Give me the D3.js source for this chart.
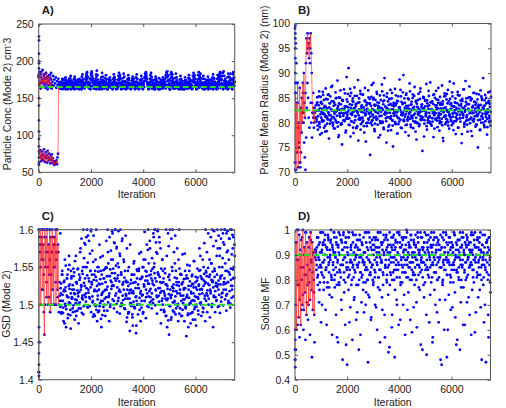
<!DOCTYPE html>
<html>
<head>
<meta charset="utf-8">
<script src="https://cdn.jsdelivr.net/npm/d3@7"></script>
<style>
  body { margin: 0; background: #fff; }
  text { font-family: "Liberation Sans", Arial, sans-serif; fill: #222; }
</style>
</head>
<body>
<div id="container"></div>
<script>
/* DATA */
// sample traces: three thinned chains (every 25 iterations), burn-in traces every 20
const mainStep = 25, secondFrom = 812, thirdFrom = 806, burnStep = 20, startIter = 10;
const iterTicks = [0, 2000, 4000, 6000];

// A) particle concentration
const concTicks = [50, 100, 150, 200, 250];
const concTruth = 165;
const concStart = [233, 228, 210, 200, 197, 190, 182, 150, 140, 120, 105, 95, 85, 78, 70, 63, 60];
const concBurnUpper = [180,168,185,172,163,178,186,170,175,165,182,171,177,164,184,169,176,162,179,173,167,181,170,164,175,168];
const concBurnLower = [180,76,70,80,65,72,78,68,74,66,81,71,64,77,69,73,63,79,70,66,75,68,62,72,67,74,63,69,62,65,60,64,62,63,66,61,70,75,165];
const concMain = [
  178,185,170,182,165,175,188,172,180,168,176,183,171,179,166,174,181,169,177,184,163,172,180,167,175,170,178,164,173,168,176,171,
  168,172,165,170,176,174,169,164,171,178, 175,170,166,163,168,173,177,180,174,169,
  165,171,176,179,173,167,164,170,175,172, 168,163,166,174,179,182,176,170,165,169,
  175,181,185,179,172,167,171,177,183,186, 180,174,169,165,170,176,182,187,181,175,
  170,166,164,171,178,184,179,173,168,172, 177,181,175,169,164,167,173,178,174,168,
  165,170,176,182,178,172,166,163,169,175, 180,184,178,171,167,164,170,177,183,179,
  173,168,165,171,176,181,177,170,166,163, 168,174,179,175,169,165,172,178,182,176,
  170,166,164,169,175,180,176,171,167,173, 178,183,185,179,172,168,165,170,176,181,
  184,178,172,167,164,169,175,179,174,168, 165,171,177,172,167,163,168,174,178,173,
  169,166,172,179,184,186,180,174,170,176, 182,185,179,173,168,165,170,177,183,178,
  172,167,164,169,175,180,176,170,166,163, 167,173,178,174,169,165,171,177,181,175,
  170,166,168,174,180,184,178,172,167,164, 169,175,181,185,179,173,168,165,170,176,
  180,176,171,167,164,169,174,179,175,170, 166,163,168,173,178,182,177,171,167,165,
  170,176,181,177,172,168,164,169,175,180, 184,186,180,174,169,166,171,178,183,179,
  173,168,165,170,176,182,185,178,172
];
const concMain2 = [
  163,166,171,164,162,169,175,167,164,170, 173,168,162,165,171,177,172,166,163,167,
  170,164,162,168,174,170,165,163,166,172, 176,171,165,162,167,173,169,164,166,171,
  178,183,176,170,165,163,168,175,181,184, 177,171,166,163,169,174,179,172,167,164,
  162,165,170,175,171,166,163,168,173,177, 172,167,164,162,166,171,176,173,168,165,
  163,167,172,178,175,169,164,162,166,170, 174,179,181,176,170,165,163,167,172,168,
  164,162,166,171,175,170,166,163,165,169, 173,177,172,167,164,162,167,172,176,171,
  166,163,165,170,174,169,164,162,168,173, 177,180,182,176,171,166,163,167,172,175,
  179,174,168,164,162,166,171,176,172,167, 164,162,167,171,175,170,166,163,165,169,
  172,176,181,185,179,173,168,164,162,167, 173,178,182,176,171,166,163,165,170,174,
  168,164,162,166,171,175,171,167,163,162, 165,170,174,169,165,163,167,172,177,173,
  168,164,162,166,172,177,181,176,170,166, 163,165,171,176,180,183,177,171,167,164,
  162,166,170,175,171,167,164,162,166,171, 175,170,165,163,167,172,176,172,168,164,
  162,167,172,178,182,185,180,174,169,165, 163,166,171,176,173,168,164,162,167,172,
  178,183,174,168,165,170,176,171
];
const concMain3 = [
  166,169,163,172,168,164,170,175,167,162, 165,171,168,163,174,169,166,162,170,173,
  167,164,169,176,171,165,163,168,172,166, 162,167,173,170,164,166,171,168,163,169,
  175,180,172,167,164,170,168,162,166,174, 171,166,163,169,173,167,162,165,170,168,
  164,172,169,165,162,167,174,170,166,163, 168,171,165,162,169,176,172,167,164,170,
  166,162,168,173,170,165,163,171,167,164, 169,175,171,166,162,168,173,169,165,163,
  167,172,168,163,166,170,174,169,164,162, 168,165,171,176,170,166,163,167,172,168,
  164,162,169,174,171,166,168,163,170,165, 173,178,183,175,169,165,162,167,171,168,
  166,163,170,174,168,164,162,169,173,167, 165,171,167,162,166,172,169,164,170,175,
  170,166,163,168,178,181,174,169,165,162, 167,173,170,165,163,168,172,166,164,170,
  168,163,166,171,169,164,162,167,173,169, 165,162,168,174,171,166,163,170,167,164,
  169,173,167,163,165,171,175,170,166,162, 168,172,167,164,169,174,170,165,163,168,
  171,166,162,167,172,168,164,169,173,166, 163,170,175,169,165,162,168,172,167,164,
  170,166,163,169,174,179,184,176,170,166, 162,168,173,169,165,163,167,171,168,164,
  170,175,168,165,162,169,173,167
];

// B) particle mean radius
const radiusTicks = [70, 75, 80, 85, 90, 95, 100];
const radiusTruth = 82.5;
const radiusStart = [99.5, 98, 97, 95, 93, 90, 88, 86, 72, 70.5];
const radiusBurn = [72,86,70.5,84,74,88,71,80,76,87,72,83,78,85,80,88,82,90,84,81,86,92,97,94,98,95,96,93,97,95,98,94,90,84,82,81,83,80,82];
const radiusMain = [
  99,96,92,88,84,79,75,72,71,74,78,82,86,80,76,73,70.5,77,83,88,85,81,79,92,84,80,77,82,86,79,83,81,
  83.5,80.2,85.1,78.6,82.4,86.3,79.1,81.7,84.2,77.9, 82.8,85.6,80.4,83.1,78.2,86.9,81.3,79.8,84.7,82.0,
  76.8,83.9,85.3,80.7,82.6,87.4,79.4,81.1,84.0,78.8, 86.1,82.3,80.0,88.5,83.4,77.5,81.9,85.0,79.6,82.7,
  75.6,84.5,81.4,86.7,80.3,83.2,78.4,89.2,82.1,85.8, 91.0,80.9,83.7,77.2,86.0,81.6,84.4,79.0,82.9,87.1,
  80.5,83.3,78.9,85.4,82.2,76.4,84.9,81.0,86.4,79.7, 83.0,80.1,85.7,82.5,78.0,87.0,81.8,84.1,79.3,82.6,
  86.5,80.6,83.8,73.5,82.0,85.2,79.5,81.5,88.0,83.6, 78.3,84.6,81.2,86.2,80.8,83.4,77.0,82.4,85.5,79.9,
  82.2,87.7,80.2,84.3,78.7,89.0,81.7,83.1,76.0,85.9, 82.8,79.2,84.8,81.0,86.6,78.5,83.5,80.4,75.2,84.0,
  81.4,86.8,79.7,83.9,82.1,77.8,85.3,80.9,88.7,82.5, 79.0,84.2,81.6,86.1,89.6,80.3,83.0,78.1,85.6,82.3,
  80.7,84.9,77.4,82.8,86.3,79.6,83.7,81.2,85.0,78.9, 82.6,87.2,80.0,84.4,76.6,83.2,81.8,85.8,79.3,82.1,
  86.9,80.5,83.6,74.3,82.4,85.1,79.8,84.6,81.3,87.8, 78.6,83.3,81.0,85.4,80.2,88.1,82.7,79.4,84.3,81.9,
  77.1,85.7,82.0,80.8,86.4,83.5,79.1,84.0,81.5,78.4, 85.2,82.9,80.1,87.5,83.8,76.3,82.3,85.9,79.7,81.4,
  84.7,80.6,86.6,82.5,78.8,88.3,81.1,83.9,79.5,85.3, 82.0,87.9,80.3,84.1,77.7,83.0,81.6,86.2,79.0,82.8,
  85.5,80.9,83.4,75.9,84.8,81.7,86.7,79.2,82.2,88.4, 80.4,83.7,78.2,85.0,82.5,87.3,79.9,84.5,81.0,77.3,
  83.1,86.0,80.7,84.2,82.9,79.6,85.8,81.3,75.0,83.6, 82.4,78.5,86.5,80.0,84.9,81.8,89.0,83.3,79.1,85.6,
  81.2,84.0,77.6,82.7,86.1,80.2,83.8,79.4,85.2
];
const radiusMain2 = [
  81.0,83.8,79.4,82.6,85.3,80.1,77.6,84.0,82.2,80.5, 86.2,81.7,79.0,83.4,81.2,84.8,78.3,82.9,80.6,85.7,
  83.1,79.8,81.5,87.2,82.4,80.0,84.3,78.9,81.8,83.6, 80.3,85.0,82.7,79.2,77.1,83.9,81.4,86.5,82.0,79.7,
  84.6,81.9,80.4,82.8,85.9,78.0,83.3,81.1,84.2,80.8, 82.5,79.5,86.8,83.0,80.2,81.6,84.9,77.9,82.3,85.4,
  81.3,83.7,79.1,82.0,88.6,80.7,84.1,82.6,78.6,83.2, 80.9,85.6,82.1,79.3,84.4,81.5,76.2,83.5,82.8,80.0,
  85.1,81.8,83.9,79.9,82.4,87.6,80.5,84.7,81.0,78.7, 83.4,82.2,80.6,85.8,79.6,82.9,84.0,81.3,77.5,83.0,
  80.1,86.3,82.6,79.0,84.5,81.7,83.3,80.3,85.2,82.0, 78.4,83.6,81.1,84.8,80.8,82.7,86.0,79.4,81.9,83.8,
  82.3,79.8,85.5,81.4,77.8,84.3,82.5,80.2,83.1,86.6, 81.6,78.9,83.7,82.0,80.6,84.9,81.2,79.5,85.9,82.8,
  80.4,83.4,81.8,87.9,82.2,79.1,84.2,80.9,83.0,81.5, 85.4,82.6,78.2,81.0,83.8,80.0,84.6,82.1,79.7,86.2,
  81.3,83.2,80.7,82.9,85.0,77.2,82.4,84.4,81.6,79.3, 83.9,80.5,86.4,82.0,81.1,84.1,79.6,82.7,80.2,85.6,
  82.3,78.8,83.5,81.9,84.7,80.4,82.9,87.0,81.0,79.9, 84.0,82.5,80.8,83.6,76.9,82.1,85.3,81.4,83.1,80.1,
  85.8,82.2,79.4,84.3,81.7,83.7,80.6,82.8,86.1,81.2, 78.5,83.3,82.0,84.9,80.3,81.8,83.9,79.0,85.5,82.6,
  80.9,84.5,82.3,77.7,83.0,81.5,86.7,80.0,82.4,84.2, 81.1,79.6,83.8,82.7,85.1,80.7,82.0,78.3,84.8,81.9,
  83.4,80.2,86.0,82.5,79.2,84.0,81.6,83.2,80.5,85.7, 82.1,78.6,83.6,81.3,84.6,80.8,82.9,79.5,
  83.5,80.3,85.0,81.8,79.1,82.6,84.4,80.9,86.3,82.2
];
const radiusMain3 = [
  82.4,80.6,84.1,81.3,83.5,79.7,82.9,85.2,81.0,83.8, 80.2,82.0,84.6,81.7,79.4,83.2,82.5,80.9,85.6,82.1,
  81.5,83.9,80.4,82.7,84.3,81.1,79.8,83.4,82.2,80.7, 84.9,82.3,81.4,83.0,80.1,85.1,82.6,81.2,83.7,79.9,
  82.8,84.4,80.5,81.9,83.3,82.0,80.8,84.7,81.6,83.1, 79.6,82.5,85.4,81.8,80.3,83.6,82.1,84.2,80.0,82.9,
  81.3,83.8,82.4,79.3,84.0,81.5,82.7,80.6,85.8,82.2, 83.5,81.0,80.4,83.1,82.6,84.5,81.7,79.9,82.3,83.9,
  80.8,82.0,84.8,81.2,83.4,80.2,82.8,81.6,85.0,82.5, 79.8,83.6,82.1,80.7,84.1,81.9,83.2,82.4,80.3,84.6,
  81.4,82.9,80.0,83.7,85.5,81.8,82.2,80.9,83.0,81.1, 84.3,82.6,79.5,82.0,83.8,81.3,84.9,80.5,82.7,83.3,
  81.9,80.1,83.5,82.3,84.4,81.0,79.7,83.1,82.8,80.6, 85.3,82.1,81.5,83.9,80.4,82.5,84.0,81.7,83.4,79.6,
  82.9,81.2,84.7,82.0,80.8,83.6,81.4,82.6,85.7,80.3, 83.2,81.8,80.2,84.2,82.4,79.9,83.0,81.6,82.7,84.8,
  80.7,82.3,83.7,81.1,85.2,82.9,80.5,83.3,81.9,82.1, 84.5,80.0,82.8,83.5,81.3,79.8,84.1,82.5,80.9,83.8,
  82.2,81.5,85.0,80.6,83.1,82.7,81.0,84.6,82.0,80.4, 83.6,81.7,82.4,79.5,84.3,82.9,81.2,83.0,85.4,80.8,
  82.6,83.9,80.1,82.2,81.4,84.8,82.8,80.3,83.4,81.8, 79.9,83.2,82.5,84.0,81.1,82.7,80.7,85.6,82.3,83.5,
  81.6,80.2,83.8,82.1,84.4,81.0,82.9,79.7,83.3,82.6, 84.9,81.5,80.5,82.8,83.7,81.9,85.1,80.9,82.4,83.1,
  80.4,82.0,84.2,81.3,83.6,82.2,79.6,84.7,81.7,82.9, 83.4,80.6,82.5,85.3,81.2,83.0,80.0,82.7,84.5,81.8,
  82.3,83.9,80.8,82.1,84.0,81.4,83.2,80.3
];

// C) geometric standard deviation
const gsdTicks = [1.4, 1.45, 1.5, 1.55, 1.6];
const gsdTruth = 1.5;
const gsdStart = [1.405, 1.41, 1.42, 1.435, 1.45, 1.47];
const gsdBurn = [1.41,1.45,1.58,1.6,1.5,1.59,1.56,1.6,1.52,1.58,1.49,1.46,1.6,1.55,1.59,1.51,1.6,1.57,1.5,1.58,1.54,1.6,1.49,1.59,1.5,1.57,1.6,1.52,1.58,1.5,1.59,1.55,1.6,1.5,1.57,1.6,1.52,1.58,1.5];
const gsdMain = [
  1.6,1.59,1.57,1.55,1.58,1.52,1.6,1.56,1.54,1.59,1.5,1.57,1.53,1.6,1.55,1.58,1.51,1.56,1.6,1.54,1.57,1.52,1.59,1.55,1.5,1.58,1.53,1.56,1.6,1.51,1.57,1.49,
  1.530,1.595,1.515,1.490,1.545,1.505,1.478,1.520,1.560,1.498, 1.470,1.512,1.540,1.487,1.525,1.553,1.502,1.468,1.535,1.510,
  1.495,1.548,1.520,1.480,1.507,1.565,1.530,1.492,1.515,1.475, 1.540,1.503,1.575,1.526,1.489,1.512,1.550,1.498,1.582,1.535,
  1.510,1.590,1.600,1.556,1.520,1.585,1.498,1.545,1.598,1.530, 1.572,1.505,1.592,1.540,1.485,1.560,1.600,1.518,1.550,1.490,
  1.528,1.580,1.502,1.545,1.470,1.515,1.565,1.497,1.535,1.508, 1.485,1.550,1.520,1.492,1.570,1.510,1.478,1.538,1.500,1.560,
  1.525,1.595,1.548,1.505,1.582,1.600,1.532,1.575,1.490,1.555, 1.598,1.518,1.568,1.600,1.540,1.502,1.588,1.527,1.560,1.495,
  1.545,1.592,1.512,1.575,1.530,1.488,1.550,1.508,1.580,1.520, 1.498,1.540,1.472,1.515,1.558,1.495,1.530,1.462,1.505,1.545,
  1.487,1.522,1.568,1.500,1.478,1.535,1.512,1.550,1.490,1.527, 1.505,1.560,1.482,1.538,1.515,1.573,1.497,1.528,1.585,1.510,
  1.545,1.495,1.532,1.502,1.590,1.555,1.600,1.520,1.570,1.488, 1.598,1.540,1.512,1.583,1.530,1.475,1.518,1.560,1.500,1.535,
  1.490,1.548,1.508,1.600,1.565,1.525,1.595,1.578,1.540,1.600, 1.512,1.588,1.550,1.600,1.522,1.570,1.505,1.592,1.545,1.530,
  1.575,1.498,1.560,1.600,1.515,1.540,1.485,1.528,1.567,1.502, 1.520,1.478,1.545,1.495,1.458,1.510,1.535,1.470,1.500,1.552,
  1.488,1.525,1.505,1.540,1.480,1.515,1.558,1.497,1.530,1.472, 1.510,1.548,1.492,1.525,1.575,1.502,1.538,1.485,1.520,1.560,
  1.495,1.532,1.508,1.478,1.545,1.515,1.490,1.528,1.500,1.537, 1.483,1.518,1.555,1.497,1.530,1.470,1.512,1.548,1.490,1.525,
  1.505,1.540,1.575,1.520,1.498,1.565,1.535,1.588,1.510,1.550, 1.595,1.527,1.580,1.600,1.545,1.512,1.570,1.598,1.530,1.560,
  1.588,1.502,1.548,1.600,1.520,1.575,1.590,1.535,1.565
];
const gsdMain2 = [
  1.505,1.522,1.488,1.540,1.513,1.496,1.530,1.475,1.518,1.552, 1.500,1.535,1.482,1.510,1.565,1.527,1.493,1.545,1.508,1.520,
  1.490,1.538,1.515,1.558,1.502,1.485,1.528,1.547,1.511,1.495, 1.533,1.570,1.520,1.588,1.545,1.507,1.600,1.562,1.525,1.580,
  1.515,1.550,1.497,1.592,1.535,1.510,1.568,1.523,1.600,1.540, 1.503,1.557,1.487,1.520,1.545,1.498,1.532,1.478,1.512,1.550,
  1.492,1.527,1.563,1.505,1.540,1.486,1.517,1.535,1.500,1.548, 1.520,1.585,1.538,1.600,1.555,1.512,1.590,1.547,1.572,1.530,
  1.598,1.560,1.525,1.583,1.542,1.600,1.515,1.577,1.535,1.505, 1.550,1.520,1.565,1.498,1.540,1.585,1.512,1.530,1.557,1.495,
  1.508,1.532,1.477,1.520,1.545,1.490,1.515,1.465,1.528,1.502, 1.540,1.483,1.518,1.555,1.497,1.530,1.510,1.472,1.535,1.500,
  1.522,1.548,1.493,1.515,1.570,1.505,1.537,1.488,1.560,1.525, 1.597,1.545,1.510,1.580,1.532,1.600,1.555,1.518,1.575,1.540,
  1.505,1.562,1.528,1.595,1.550,1.600,1.535,1.583,1.512,1.568, 1.600,1.540,1.590,1.522,1.575,1.548,1.505,1.560,1.530,1.493,
  1.515,1.542,1.485,1.527,1.470,1.508,1.537,1.460,1.498,1.520, 1.480,1.513,1.545,1.492,1.527,1.503,1.555,1.487,1.518,1.535,
  1.500,1.478,1.525,1.548,1.495,1.512,1.540,1.485,1.530,1.507, 1.522,1.568,1.497,1.535,1.510,1.553,1.488,1.520,1.545,1.502,
  1.475,1.515,1.538,1.490,1.527,1.558,1.505,1.480,1.523,1.497, 1.532,1.510,1.487,1.545,1.520,1.565,1.500,1.535,1.515,1.490,
  1.550,1.582,1.528,1.600,1.543,1.570,1.512,1.595,1.537,1.560, 1.520,1.590,1.555,1.600,1.532,1.578,1.598,1.545,1.510,1.585,
  1.565,1.600,1.527,1.592,1.550,1.575,1.538,1.600,1.515,1.562, 1.583,1.530,1.600,1.555,1.520,1.595,1.545,1.572,1.505,1.588,
  1.540,1.600,1.525,1.567,1.593,1.535,1.550,1.580
];
const gsdMain3 = [
  1.512,1.497,1.528,1.505,1.540,1.489,1.518,1.532,1.501,1.523, 1.494,1.535,1.510,1.547,1.503,1.521,1.486,1.515,1.538,1.508,
  1.526,1.499,1.543,1.514,1.491,1.530,1.506,1.519,1.548,1.502, 1.517,1.536,1.495,1.524,1.509,1.541,1.487,1.529,1.513,1.550,
  1.504,1.522,1.539,1.496,1.516,1.531,1.508,1.545,1.490,1.527, 1.511,1.484,1.533,1.518,1.500,1.537,1.493,1.525,1.507,1.544,
  1.520,1.498,1.534,1.481,1.513,1.528,1.505,1.546,1.492,1.519, 1.530,1.510,1.549,1.524,1.503,1.538,1.515,1.497,1.532,1.521,
  1.542,1.507,1.526,1.495,1.535,1.512,1.552,1.501,1.523,1.539, 1.509,1.531,1.488,1.517,1.543,1.499,1.527,1.506,1.520,1.536,
  1.494,1.514,1.530,1.483,1.508,1.525,1.490,1.519,1.502,1.533, 1.516,1.487,1.529,1.504,1.540,1.496,1.522,1.511,1.547,1.500,
  1.527,1.545,1.509,1.534,1.518,1.496,1.537,1.513,1.550,1.524, 1.505,1.532,1.520,1.544,1.498,1.528,1.511,1.539,1.503,1.521,
  1.535,1.515,1.548,1.507,1.526,1.542,1.499,1.519,1.531,1.510, 1.543,1.522,1.504,1.537,1.516,1.493,1.529,1.508,1.545,1.518,
  1.491,1.512,1.527,1.485,1.506,1.521,1.479,1.514,1.533,1.498, 1.509,1.483,1.524,1.503,1.518,1.490,1.536,1.511,1.495,1.526,
  1.515,1.501,1.530,1.488,1.520,1.541,1.505,1.527,1.493,1.512, 1.534,1.507,1.522,1.497,1.539,1.513,1.486,1.525,1.509,1.531,
  1.502,1.517,1.489,1.528,1.506,1.523,1.494,1.511,1.537,1.500, 1.520,1.536,1.508,1.527,1.514,1.546,1.503,1.521,1.534,1.496,
  1.525,1.541,1.512,1.530,1.505,1.538,1.519,1.549,1.508,1.526, 1.540,1.515,1.533,1.501,1.544,1.523,1.510,1.537,1.518,1.529,
  1.506,1.524,1.497,1.532,1.513,1.489,1.527,1.504,1.539,1.516, 1.499,1.520,1.535,1.507,1.528,1.492,1.514,1.530,1.502,1.543,
  1.518,1.496,1.533,1.509,1.525,1.547,1.511,1.536
];

// D) soluble mass fraction
const mfTicks = [0.4, 0.5, 0.6, 0.7, 0.8, 0.9, 1];
const mfTruth = 0.9;
const mfStart = [0.45, 0.48, 0.52, 0.56, 0.6];
const mfBurn = [0.52,0.7,0.95,0.6,1.0,0.78,0.88,0.65,0.98,0.72,0.9,0.62,0.96,0.8,0.7,1.0,0.85,0.68,0.93,0.75,0.99,0.82,0.66,0.95,0.78,0.9,0.7,0.97,0.84,0.72,0.99,0.88,0.76,0.95,0.68,0.9,0.8,0.66,0.92];
const mfMain = [
  0.48,0.52,0.95,0.88,0.62,1.0,0.78,0.57,0.92,0.85,0.68,0.97,0.74,0.6,0.9,0.82,0.56,0.99,0.71,0.86,0.64,0.93,0.79,0.58,0.96,0.87,0.49,0.83,0.91,0.75,0.55,0.89,
  0.92,0.84,0.97,0.78,0.89,0.71,0.95,0.86,0.63,0.91, 0.82,0.99,0.76,0.88,0.94,0.68,0.85,0.93,0.79,0.97,
  0.87,0.74,0.90,0.96,0.81,0.58,0.92,0.84,0.99,0.77, 0.89,0.66,0.94,0.83,0.55,0.91,0.78,0.98,0.86,0.72,
  0.95,0.48,0.88,0.80,0.93,0.62,0.97,0.85,0.46,0.90, 0.76,0.99,0.84,0.69,0.92,0.87,0.56,0.95,0.81,0.73,
  0.90,0.98,0.64,0.86,0.93,0.78,0.52,0.89,0.96,0.83, 0.71,0.94,0.87,0.79,0.67,0.91,0.84,0.75,0.99,0.80,
  0.47,0.88,0.73,0.95,0.82,0.65,0.92,0.86,0.78,0.97, 0.84,0.70,0.93,0.89,0.60,0.96,0.81,0.91,0.76,0.99,
  0.87,0.94,0.68,0.83,0.98,0.90,0.57,0.85,0.92,0.79, 0.96,0.74,0.88,0.53,0.91,0.82,0.97,0.66,0.89,0.94,
  0.80,0.49,0.93,0.86,0.72,0.99,0.84,0.62,0.90,0.95, 0.78,0.88,0.97,0.83,0.70,0.92,0.86,0.58,0.94,0.81,
  0.99,0.89,0.75,0.93,0.85,0.64,0.96,0.80,0.91,0.87, 0.69,0.94,0.82,0.98,0.88,0.61,0.90,0.95,0.77,0.85,
  0.92,0.54,0.87,0.97,0.81,0.93,0.73,0.99,0.86,0.90, 0.50,0.95,0.84,0.91,0.63,0.88,0.97,0.79,0.93,0.55,
  0.86,0.99,0.76,0.90,0.83,0.94,0.67,0.89,0.96,0.81, 0.72,0.92,0.85,0.46,0.97,0.80,0.88,0.60,0.93,0.84,
  0.98,0.49,0.87,0.91,0.74,0.95,0.82,0.68,0.90,0.86, 0.94,0.79,0.99,0.88,0.65,0.92,0.84,0.56,0.96,0.81,
  0.89,0.52,0.93,0.77,0.97,0.86,0.62,0.91,0.83,0.95, 0.80,0.98,0.71,0.88,0.94,0.85,0.66,0.92,0.87,0.99,
  0.76,0.90,0.84,0.96,0.59,0.89,0.93,0.81,0.97,0.73, 0.88,0.95,0.82,0.69,0.91,0.86,0.98,0.78,0.63,0.93,
  0.85,0.47,0.90,0.96,0.80,0.57,0.92,0.88,0.75
];
const mfMain2 = [
  0.88,0.93,0.81,0.97,0.85,0.76,0.91,0.99,0.83,0.70, 0.94,0.87,0.79,0.96,0.90,0.84,0.62,0.92,0.98,0.86,
  0.77,0.89,0.95,0.82,0.73,0.93,0.87,0.99,0.80,0.91, 0.85,0.97,0.57,0.88,0.94,0.79,0.90,0.83,0.96,0.68,
  0.92,0.86,0.99,0.75,0.89,0.95,0.54,0.84,0.91,0.81, 0.97,0.63,0.87,0.93,0.78,0.90,0.85,0.98,0.72,0.88,
  0.83,0.94,0.90,0.67,0.86,0.96,0.80,0.92,0.58,0.89, 0.95,0.82,0.76,0.91,0.87,0.99,0.70,0.85,0.93,0.80,
  0.74,0.88,0.97,0.83,0.64,0.90,0.86,0.94,0.79,0.92, 0.81,0.96,0.69,0.87,0.93,0.77,0.99,0.84,0.55,0.90,
  0.88,0.73,0.95,0.82,0.91,0.66,0.86,0.97,0.80,0.93, 0.85,0.51,0.90,0.78,0.94,0.87,0.61,0.92,0.83,0.98,
  0.89,0.76,0.95,0.84,0.70,0.91,0.87,0.99,0.81,0.64, 0.93,0.86,0.79,0.96,0.89,0.74,0.92,0.83,0.97,0.88,
  0.68,0.91,0.85,0.94,0.80,0.98,0.87,0.59,0.90,0.83, 0.95,0.78,0.89,0.93,0.71,0.86,0.97,0.82,0.91,0.76,
  0.99,0.88,0.84,0.52,0.92,0.87,0.95,0.79,0.90,0.66, 0.85,0.93,0.98,0.81,0.89,0.74,0.94,0.86,0.91,0.57,
  0.96,0.83,0.88,0.70,0.92,0.97,0.80,0.87,0.63,0.94, 0.89,0.48,0.85,0.93,0.78,0.99,0.86,0.91,0.72,0.88,
  0.95,0.82,0.60,0.90,0.87,0.97,0.79,0.93,0.84,0.69, 0.91,0.86,0.98,0.75,0.89,0.54,0.94,0.83,0.92,0.80,
  0.96,0.88,0.71,0.93,0.85,0.99,0.77,0.90,0.62,0.87, 0.94,0.81,0.97,0.89,0.73,0.92,0.86,0.95,0.58,0.91,
  0.84,0.98,0.79,0.88,0.93,0.67,0.90,0.96,0.82,0.87, 0.92,0.76,0.99,0.85,0.48,0.94,0.89,0.81,0.90,0.70,
  0.88,0.95,0.83,0.91,0.66,0.97,0.86,0.79
];
const mfMain3 = [
  0.91,0.86,0.97,0.82,0.94,0.88,0.79,0.99,0.85,0.92, 0.87,0.95,0.81,0.90,0.98,0.84,0.93,0.77,0.89,0.96,
  0.83,0.92,0.88,1.00,0.80,0.94,0.86,0.91,0.97,0.82, 0.89,0.95,0.78,0.87,0.93,0.99,0.84,0.90,0.81,0.96,
  0.86,0.92,0.98,0.83,0.89,0.79,0.95,0.87,0.93,0.85, 0.97,0.82,0.90,0.88,0.94,0.80,0.99,0.86,0.91,0.84,
  0.93,0.89,0.78,0.96,0.85,0.92,0.87,0.98,0.83,0.90, 0.81,0.94,0.88,0.97,0.86,0.91,0.79,0.95,0.89,0.84,
  0.92,0.99,0.82,0.87,0.93,0.85,0.96,0.80,0.90,0.94, 0.88,0.83,0.97,0.91,0.86,0.99,0.81,0.93,0.89,0.84,
  0.95,0.87,0.92,0.78,0.90,0.96,0.85,0.88,0.98,0.82, 0.91,0.94,0.86,0.99,0.83,0.89,0.93,0.80,0.97,0.87,
  0.84,0.92,0.96,0.88,0.81,0.95,0.90,0.86,0.98,0.93, 0.79,0.89,0.94,0.85,0.91,0.97,0.83,0.88,0.92,1.00,
  0.86,0.81,0.95,0.90,0.87,0.93,0.98,0.84,0.89,0.82, 0.96,0.91,0.85,0.94,0.80,0.88,0.99,0.92,0.86,0.90,
  0.83,0.97,0.89,0.93,0.87,0.78,0.95,0.91,0.84,0.98, 0.88,0.92,0.82,0.96,0.90,0.85,0.93,0.99,0.81,0.87,
  0.94,0.89,0.97,0.83,0.91,0.86,0.80,0.95,0.92,0.88, 0.85,0.98,0.90,0.93,0.79,0.87,0.96,0.84,0.91,0.99,
  0.89,0.82,0.94,0.88,0.97,0.86,0.92,0.81,0.95,0.90, 0.93,0.87,0.84,0.98,0.90,0.95,0.83,0.89,0.96,0.85,
  0.91,0.99,0.86,0.80,0.94,0.88,0.97,0.92,0.84,0.90, 0.87,0.93,0.96,0.82,0.89,0.95,0.85,0.91,0.98,0.86,
  0.92,0.81,0.88,0.94,0.99,0.87,0.90,0.83,0.96,0.93, 0.85,0.97,0.89,0.92,0.80,0.94,0.88,0.91,0.86,0.98,
  0.84,0.90,0.95,0.87,0.93,0.82,0.97,0.89
];

/* LAYOUT */
const width = 506, height = 408;
const panels = [
  { title: "A)", box: [38.7, 24, 196, 148.3], yTicks: concTicks, truth: concTruth,
    start: concStart, chains: [[0, concMain], [secondFrom, concMain2], [thirdFrom, concMain3]],
    burns: [concBurnUpper, concBurnLower],
    label: ["Particle Conc (Mode 2) cm", "-", "3"], labelX: 11, labelY: 104 },
  { title: "B)", box: [295, 23.5, 196, 148.8], yTicks: radiusTicks, truth: radiusTruth,
    start: radiusStart, chains: [[0, radiusMain], [secondFrom, radiusMain2], [thirdFrom, radiusMain3]],
    burns: [radiusBurn],
    label: ["Particle Mean Radius (Mode 2) (nm)"], labelX: 268, labelY: 90 },
  { title: "C)", box: [38.7, 229.7, 196, 150], yTicks: gsdTicks, truth: gsdTruth,
    start: gsdStart, chains: [[0, gsdMain], [secondFrom, gsdMain2], [thirdFrom, gsdMain3]],
    burns: [gsdBurn],
    label: ["GSD (Mode 2)"], labelX: 10, labelY: 304 },
  { title: "D)", box: [295, 230, 195.5, 149.7], yTicks: mfTicks, truth: mfTruth,
    start: mfStart, chains: [[0, mfMain], [secondFrom, mfMain2], [thirdFrom, mfMain3]],
    burns: [mfBurn],
    label: ["Soluble MF"], labelX: 269, labelY: 304 }
];

const svg = d3.select("#container")
  .append("svg")
  .attr("width", width)
  .attr("height", height);

panels.forEach(p => {
  const [x0, y0, w, h] = p.box;
  const yDom = d3.extent(p.yTicks);

  /* SCALES */
  const xScale = d3.scaleLinear().domain([0, 7500]).range([x0, x0 + w]);
  const yScale = d3.scaleLinear().domain(yDom).range([y0 + h, y0]);

  const g = svg.append("g");

  // blue samples: chains, early column, burn-in points
  const dots = [].concat(
    ...p.chains.map(([from, vals]) => vals.map((v, i) => [from + i * mainStep, v])),
    p.start.map(v => [startIter, v]),
    ...p.burns.map(b => b.map((v, i) => [i * burnStep, v]))
  );

  g.append("g")
    .selectAll("circle")
    .data(dots)
    .join("circle")
    .attr("cx", d => xScale(d[0]))
    .attr("cy", d => yScale(d[1]))
    .attr("r", 1.4)
    .attr("fill", "#0000ff");

  // red burn-in traces
  const line = d3.line()
    .x((v, i) => xScale(i * burnStep))
    .y(v => yScale(v));
  g.selectAll("path.burn")
    .data(p.burns)
    .join("path")
    .attr("class", "burn")
    .attr("d", line)
    .attr("fill", "none")
    .attr("stroke", "#ff1a1a")
    .attr("stroke-width", 0.6);

  // true value
  g.append("line")
    .attr("x1", x0).attr("x2", x0 + w)
    .attr("y1", yScale(p.truth)).attr("y2", yScale(p.truth))
    .attr("stroke", "#22dd22")
    .attr("stroke-width", 2)
    .attr("stroke-dasharray", "6,3");

  /* AXES */
  const fmtX = d3.format("d");
  const xAxis = d3.axisBottom(xScale).tickValues(iterTicks).tickSizeInner(-3).tickSizeOuter(0).tickPadding(6).tickFormat(fmtX);
  const xAxisTop = d3.axisTop(xScale).tickValues(iterTicks).tickSizeInner(-3).tickSizeOuter(0).tickFormat("");
  const yAxis = d3.axisLeft(yScale).tickValues(p.yTicks).tickSizeInner(-3).tickSizeOuter(0).tickPadding(5).tickFormat(d => String(d));
  const yAxisRight = d3.axisRight(yScale).tickValues(p.yTicks).tickSizeInner(-3).tickSizeOuter(0).tickFormat("");

  [
    [xAxis, `translate(0,${y0 + h})`],
    [xAxisTop, `translate(0,${y0})`],
    [yAxis, `translate(${x0},0)`],
    [yAxisRight, `translate(${x0 + w},0)`]
  ].forEach(([ax, tr]) => {
    const a = g.append("g").attr("transform", tr).call(ax);
    a.select(".domain").remove();
    a.selectAll("line").attr("stroke", "#555");
    a.selectAll("text").attr("font-size", 10.5).attr("fill", "#222")
      .style("font-family", '"Liberation Sans", Arial, sans-serif');
  });

  g.append("rect")
    .attr("x", x0).attr("y", y0).attr("width", w).attr("height", h)
    .attr("fill", "none")
    .attr("stroke", "#555")
    .attr("stroke-width", 1);

  // labels
  g.append("text")
    .attr("x", xScale(3750))
    .attr("y", y0 + h + 26)
    .attr("text-anchor", "middle")
    .attr("font-size", 10.5)
    .text("Iteration");

  const yl = g.append("text")
    .attr("transform", `translate(${p.labelX},${p.labelY}) rotate(-90)`)
    .attr("text-anchor", "middle")
    .attr("font-size", 10.5);
  yl.append("tspan").text(p.label[0]);
  if (p.label.length > 1) {
    yl.append("tspan").attr("dy", -4).attr("font-size", 7).text(p.label[1]);
    yl.append("tspan").attr("dy", 4).text(p.label[2]);
  }

  g.append("text")
    .attr("x", x0 + 3)
    .attr("y", y0 - 10)
    .attr("font-size", 11.5)
    .attr("font-weight", "bold")
    .text(p.title);
});
</script>
</body>
</html>
